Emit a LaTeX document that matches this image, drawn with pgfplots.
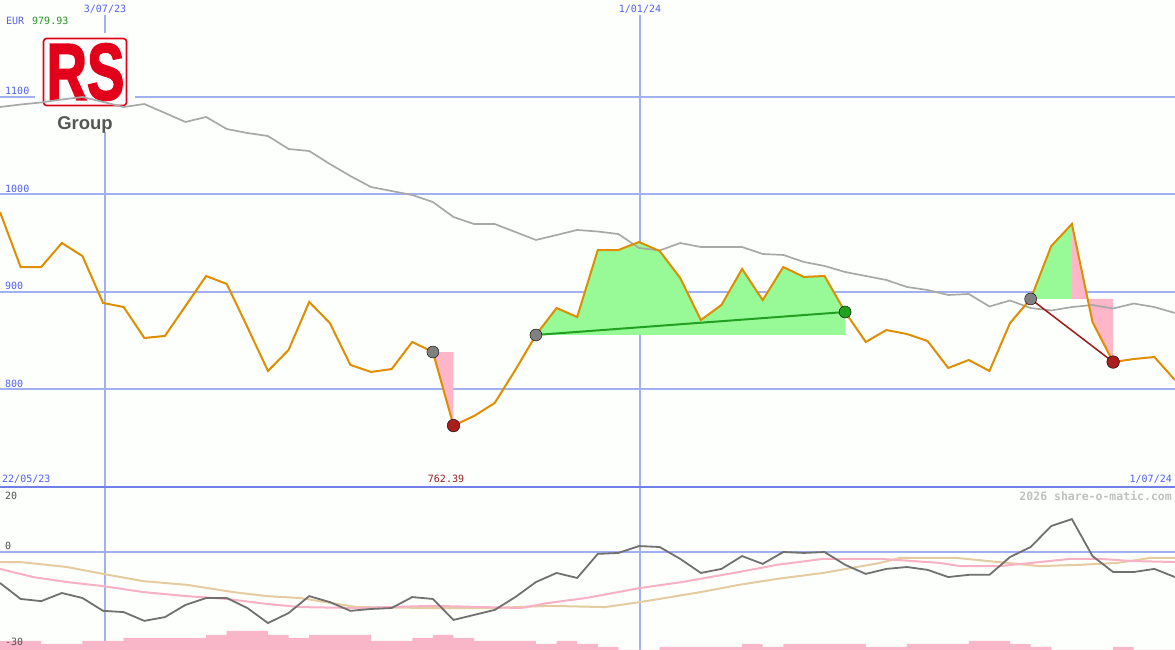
\documentclass[border=0pt]{standalone}
\usepackage{fontspec}
\setmainfont{Liberation Sans}
\setmonofont{DejaVu Sans Mono}
\newfontfamily\rsfont[FakeBold=2.5]{Liberation Sans Bold}
\usepackage{graphicx}
\usepackage{pgfplots}
\pgfplotsset{compat=1.18}

\definecolor{bgc}{RGB}{253,255,253}
\definecolor{gridc}{RGB}{160,176,240}
\definecolor{sepc}{RGB}{112,128,232}
\definecolor{bluet}{RGB}{80,96,240}
\definecolor{greent}{RGB}{34,150,34}
\definecolor{redt}{RGB}{150,30,30}
\definecolor{orangec}{RGB}{222,142,0}
\definecolor{mac}{RGB}{168,168,168}
\definecolor{pinkf}{RGB}{255,182,200}
\definecolor{greenf}{RGB}{152,250,150}
\definecolor{greenl}{RGB}{34,160,34}
\definecolor{darkred}{RGB}{160,24,24}
\definecolor{reddot}{RGB}{170,30,30}
\definecolor{graydot}{RGB}{128,128,128}
\definecolor{oscc}{RGB}{112,112,112}
\definecolor{pinkl}{RGB}{248,176,196}
\definecolor{tanl}{RGB}{228,204,160}
\definecolor{barc}{RGB}{248,182,200}
\definecolor{rsred}{RGB}{226,0,26}
\definecolor{groupc}{RGB}{85,85,85}
\definecolor{wmc}{RGB}{192,192,192}
\definecolor{labgray}{RGB}{80,80,80}

\newcommand{\lbl}{\fontsize{10}{10}\selectfont\ttfamily}

\pgfplotstableread{
k p
0 981.8
1 925.3
2 925.3
3 950.0
4 936.6
5 888.4
6 884.2
7 852.4
8 854.5
9 885.3
10 916.1
11 907.9
12 863.7
13 818.5
14 840.1
15 889.4
16 867.8
17 824.7
18 817.5
19 820.5
20 848.3
21 838.0
22 762.4
23 772.3
24 785.6
25 819.5
26 855.5
27 883.2
28 874.0
29 942.8
30 942.8
31 951.0
32 941.8
33 914.0
34 870.9
35 886.3
36 923.3
37 891.4
38 925.3
39 915.1
40 916.1
41 879.1
42 848.3
43 860.6
44 856.5
45 849.3
46 821.6
47 829.8
48 818.5
49 867.8
50 892.5
51 946.9
52 969.5
53 868.8
54 827.7
55 830.8
56 832.9
57 809.2
}\price

\pgfplotstableread{
k m
0 1089.7
1 1092.3
2 1094.4
3 1097.4
4 1100.0
5 1094.9
6 1089.7
7 1092.8
8 1083.6
9 1074.3
10 1079.5
11 1067.1
12 1063.0
13 1059.9
14 1046.6
15 1044.5
16 1031.2
17 1018.8
18 1007.5
19 1003.4
20 999.3
21 992.1
22 976.7
23 969.5
24 969.5
25 961.3
26 953.1
27 958.2
28 963.4
29 961.8
30 959.2
31 944.9
32 942.3
33 950.0
34 945.9
35 945.9
36 945.9
37 938.7
38 937.7
39 930.5
40 926.4
41 920.2
42 916.1
43 912.0
44 904.8
45 901.7
46 896.6
47 897.6
48 884.8
49 890.9
50 883.2
51 880.7
52 884.2
53 886.3
54 882.7
55 887.8
56 884.2
57 878.1
}\mavg

\pgfplotstableread{
k v
0 -10.0
1 -15.1
2 -15.8
3 -13.2
4 -14.8
5 -18.9
6 -19.3
7 -22.1
8 -20.9
9 -17.0
10 -14.8
11 -14.8
12 -18.0
13 -22.8
14 -19.6
15 -14.2
16 -16.1
17 -18.9
18 -18.3
19 -18.0
20 -14.5
21 -15.1
22 -21.8
23 -20.2
24 -18.6
25 -14.5
26 -9.7
27 -6.8
28 -8.4
29 -0.7
30 -0.4
31 1.8
32 1.5
33 -2.3
34 -6.8
35 -5.5
36 -1.4
37 -3.9
38 -0.1
39 -0.4
40 -0.1
41 -4.2
42 -7.1
43 -5.5
44 -4.9
45 -5.8
46 -8.1
47 -7.4
48 -7.4
49 -1.7
50 1.5
51 8.2
52 10.4
53 -1.4
54 -6.5
55 -6.5
56 -5.5
57 -8.1
}\osc

\pgfplotstableread{
k v
0 -5.5
1.6 -8.1
3.25 -9.7
5.0 -11.0
6.94 -12.9
9.07 -14.2
11.01 -15.1
12.95 -16.7
14.55 -17.7
17.32 -18.0
21.0 -17.3
25.27 -18.0
26.58 -16.4
28.43 -14.8
31.05 -11.6
33.08 -9.7
35.85 -6.5
37.69 -4.2
39.92 -2.3
42.69 -2.3
43.66 -2.7
45.6 -3.6
46.57 -4.6
48.51 -4.6
50.45 -3.3
51.91 -2.3
53.36 -2.3
54.96 -3.0
57 -3.3
}\pinkline

\pgfplotstableread{
k v
0 -3.3
0.97 -3.3
3.25 -4.9
5.0 -7.1
6.94 -9.4
9.07 -10.6
11.3 -12.9
12.95 -14.2
14.55 -14.8
17.32 -17.7
21.0 -18.0
23.96 -18.0
26.58 -17.3
29.35 -17.7
31.05 -16.1
34.0 -12.9
35.85 -10.6
37.69 -8.7
39.92 -6.8
42.69 -3.6
43.66 -2.0
46.42 -2.0
49.33 -3.9
50.45 -4.6
52.39 -4.2
54.19 -3.6
55.79 -2.0
57 -2.0
}\tanline

\pgfplotstableread{
k h
0 9
1 9
2 6
3 6
4 9
5 9
6 12
7 12
8 12
9 12
10 15
11 19
12 19
13 15
14 12
15 15
16 15
17 15
18 9
19 9
20 12
21 15
22 12
23 9
24 9
25 9
26 6
27 9
28 6
29 3
30 0
31 0
32 3
33 3
34 3
35 3
36 6
37 3
38 6
39 6
40 6
41 6
42 3
43 3
44 6
45 6
46 6
47 9
48 9
49 6
50 3
51 0
52 0
53 0
54 3
55 0
56 0
57 0
}\vol

\begin{document}
\begin{tikzpicture}
\path[use as bounding box] (0,0) rectangle (1175pt,650pt);
\fill[bgc] (0,0) rectangle (1175pt,650pt);
\begin{scope}[yshift=650pt,x=1pt,y=-1pt]
  \draw[gridc,line width=2pt] (0,97)--(1175,97) (0,194)--(1175,194) (0,292)--(1175,292) (0,389)--(1175,389) (0,551.7)--(1175,551.7);
  \draw[gridc,line width=1.7pt] (105,15)--(105,650) (640,15)--(640,650);
  \draw[sepc,line width=2.2pt] (0,487)--(1175,487);
  % logo
  \fill[bgc] (35,33) rectangle (135,132);
  \draw[rsred,line width=1.6pt,rounded corners=3pt] (43.5,38.5) rectangle (126.5,105.5);
  \node[rsred,inner sep=0pt] at (85.5,72) {\scalebox{0.7}[1]{\fontsize{80}{80}\selectfont\rsfont RS}};
  \node[groupc,inner sep=0pt,anchor=base] at (85,130) {\fontsize{18.5}{18.5}\selectfont\bfseries Group};
\end{scope}

\begin{axis}[at={(0pt,163pt)}, anchor=south west, scale only axis,
  width=1175pt, height=487pt, xmin=0, xmax=57, ymin=699.32, ymax=1199.66,
  axis lines=none, ticks=none]
  \addplot[fill=pinkf, draw=none] coordinates {(21,838.0) (22,762.4) (22,838.0)};
  \addplot[fill=greenf, draw=none] coordinates {(26,855.5) (27,883.2) (28,874.0) (29,942.8) (30,942.8) (31,951.0) (32,941.8) (33,914.0) (34,870.9) (35,886.3) (36,923.3) (37,891.4) (38,925.3) (39,915.1) (40,916.1) (41,879.1) (41,855.5)};
  \addplot[fill=greenf, draw=none] coordinates {(50,892.5) (51,946.9) (52,969.5) (52,892.5)};
  \addplot[fill=pinkf, draw=none] coordinates {(52,969.5) (53,868.8) (54,827.7) (54,892.5) (52,892.5)};
  \addplot[mac, line width=1.7pt] table[x=k,y=m] {\mavg};
  \addplot[greenl, line width=2pt] coordinates {(26,855.5) (41,879.1)};
  \addplot[darkred, line width=1.5pt] coordinates {(50,892.5) (54,827.7)};
  \addplot[only marks, mark=*, mark size=6pt, mark options={fill=graydot, draw=none}] coordinates {(21,838.0) (26,855.5) (50,892.5)};
  \addplot[only marks, mark=*, mark size=6.3pt, mark options={fill=reddot, draw=none}] coordinates {(22,762.4) (54,827.7)};
  \addplot[only marks, mark=*, mark size=6pt, mark options={fill=greenl, draw=none}] coordinates {(41,879.1)};
  \addplot[orangec, line width=2pt] table[x=k,y=p] {\price};
\end{axis}

\begin{axis}[at={(0pt,0pt)}, anchor=south west, scale only axis,
  width=1175pt, height=163pt, xmin=0, xmax=57, ymin=0, ymax=163,
  axis lines=none, ticks=none]
  \addplot[ybar interval, fill=barc, draw=none] table[x=k,y=h] {\vol};
\end{axis}

\begin{axis}[at={(0pt,0pt)}, anchor=south west, scale only axis,
  width=1175pt, height=163pt, xmin=0, xmax=57, ymin=-31.41, ymax=20.67,
  axis lines=none, ticks=none]
  \addplot[tanl, line width=2pt] table[x=k,y=v] {\tanline};
  \addplot[pinkl, line width=2pt] table[x=k,y=v] {\pinkline};
  \addplot[oscc, line width=1.8pt] table[x=k,y=v] {\osc};
\end{axis}

\begin{scope}[yshift=650pt,x=1pt,y=-1pt]
  \node[bluet,inner sep=0pt,anchor=base] at (105,13) {\lbl 3/07/23};
  \node[bluet,inner sep=0pt,anchor=base] at (640,13) {\lbl 1/01/24};
  \node[bluet,inner sep=0pt,anchor=base west] at (6,25) {\lbl EUR};
  \node[greent,inner sep=0pt,anchor=base west] at (32,25) {\lbl 979.93};
  \node[bluet,inner sep=0pt,anchor=base west] at (5,95) {\lbl 1100};
  \node[bluet,inner sep=0pt,anchor=base west] at (5,192.5) {\lbl 1000};
  \node[bluet,inner sep=0pt,anchor=base west] at (5,290) {\lbl 900};
  \node[bluet,inner sep=0pt,anchor=base west] at (5,387.5) {\lbl 800};
  \node[bluet,inner sep=0pt,anchor=base west] at (2,483) {\lbl 22/05/23};
  \node[redt,inner sep=0pt,anchor=base] at (446,483) {\lbl 762.39};
  \node[bluet,inner sep=0pt,anchor=base east] at (1172,483) {\lbl 1/07/24};
  \node[wmc,inner sep=0pt,anchor=base east] at (1172,501) {\fontsize{11.5}{11.5}\selectfont\ttfamily\bfseries 2026 share-o-matic.com};
  \node[labgray,inner sep=0pt,anchor=base west] at (5,499.5) {\lbl 20};
  \node[labgray,inner sep=0pt,anchor=base west] at (5,549.5) {\lbl 0};
  \node[labgray,inner sep=0pt,anchor=base west] at (5,646) {\lbl -30};
\end{scope}
\end{tikzpicture}
\end{document}
